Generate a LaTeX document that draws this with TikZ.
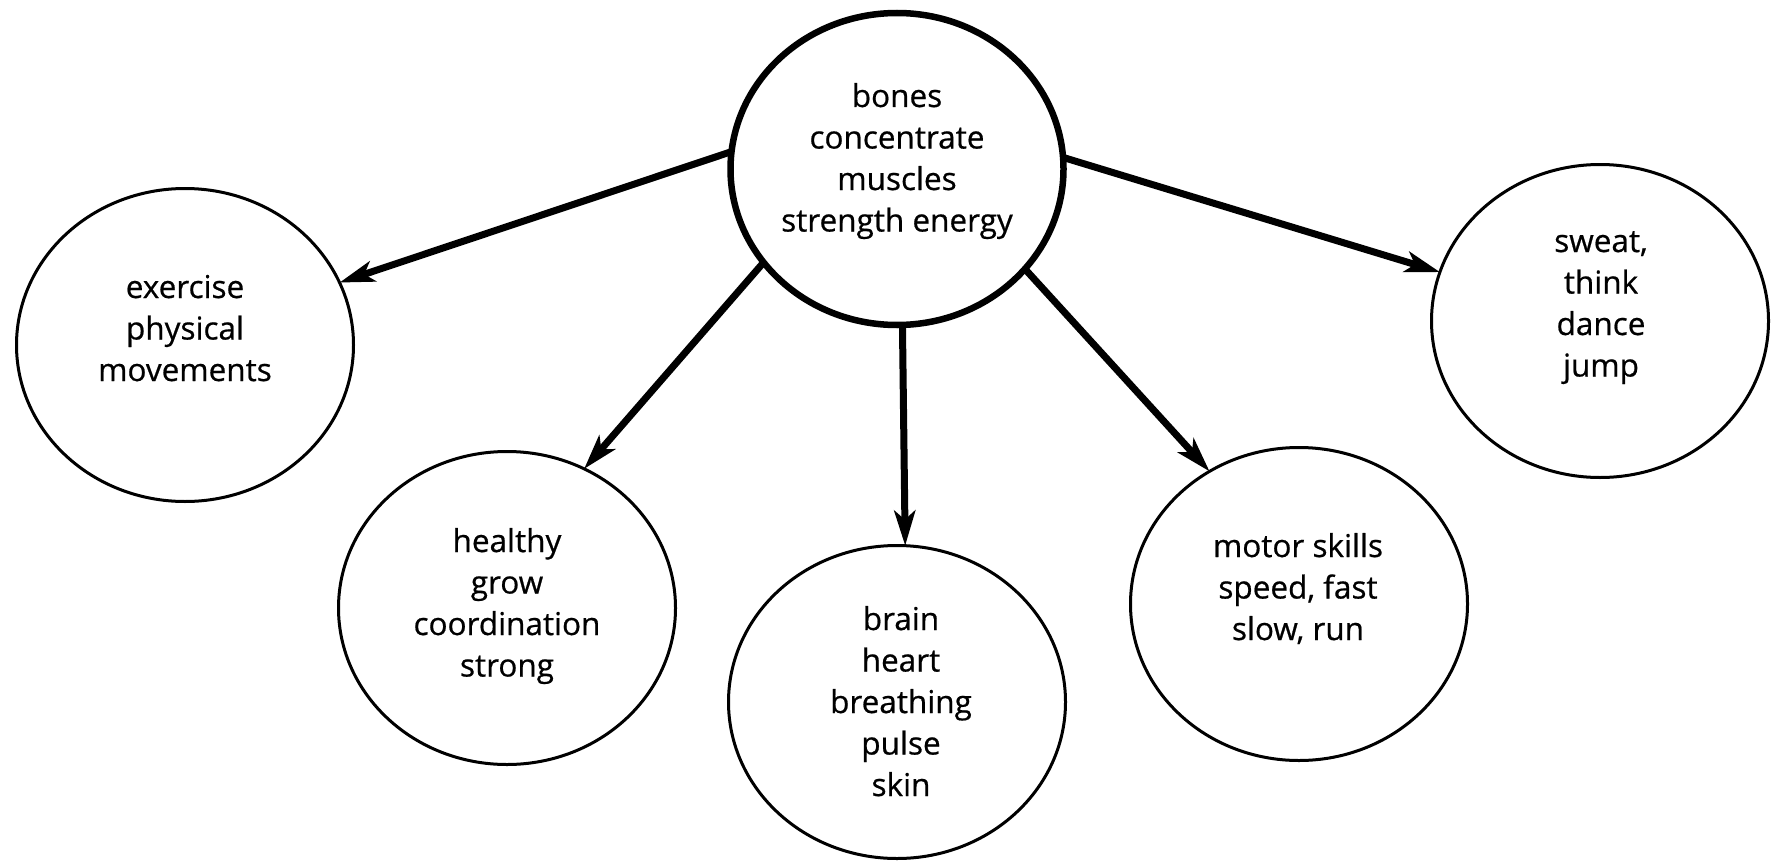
\documentclass[tikz,border=0pt]{standalone}
\usepackage{fontspec}
\setmainfont{Open Sans}[FakeBold=0.6]
\usetikzlibrary{shapes.geometric,arrows.meta}
\begin{document}
\begin{tikzpicture}[x=1pt,y=-1pt,
  bubble/.style={ellipse, draw, line width=3pt, minimum width=337pt, minimum height=313pt, inner sep=0pt, outer sep=0pt},
  hub/.style={bubble, line width=6.5pt, minimum width=333pt, minimum height=312pt},
  words/.style={anchor=base, inner sep=0pt, font=\fontsize{31.5}{41.5}\selectfont},
  link/.style={line width=7pt, -{Stealth[length=35pt,width=21pt,inset=9pt]}}]
\useasboundingbox (0,0) rectangle (1771,864);
\node[hub] (c) at (897,169) {};
\node[bubble] (ex) at (185,345) {};
\node[bubble] (he) at (507,608) {};
\node[bubble] (br) at (897,702) {};
\node[bubble] (mo) at (1299,604) {};
\node[bubble] (sw) at (1600,321) {};
\node[words] (tc) at (897,107) {\begin{tabular}[t]{@{}c@{}}bones\\concentrate\\muscles\\strength energy\end{tabular}};
\node[words] (tex) at (185,298) {\begin{tabular}[t]{@{}c@{}}exercise\\physical\\movements\end{tabular}};
\node[words] (the) at (507,552) {\begin{tabular}[t]{@{}c@{}}healthy\\grow\\coordination\\strong\end{tabular}};
\node[words] (tbr) at (901,630) {\begin{tabular}[t]{@{}c@{}}brain\\heart\\breathing\\pulse\\skin\end{tabular}};
\node[words] (tmo) at (1298,557) {\begin{tabular}[t]{@{}c@{}}motor skills\\speed, fast\\slow, run\end{tabular}};
\node[words] (tsw) at (1601,252) {\begin{tabular}[t]{@{}c@{}}sweat,\\think\\dance\\jump\end{tabular}};
\draw[link] (c.174.3) -- (ex.22.5);
\draw[link] (c.215.8) -- (he.61.7);
\draw[link] (c.272.2) -- (br.87.8);
\draw[link] (c.322.4) -- (mo.124.3);
\draw[link] (c.4) -- (sw.163.6);
\end{tikzpicture}
\end{document}
